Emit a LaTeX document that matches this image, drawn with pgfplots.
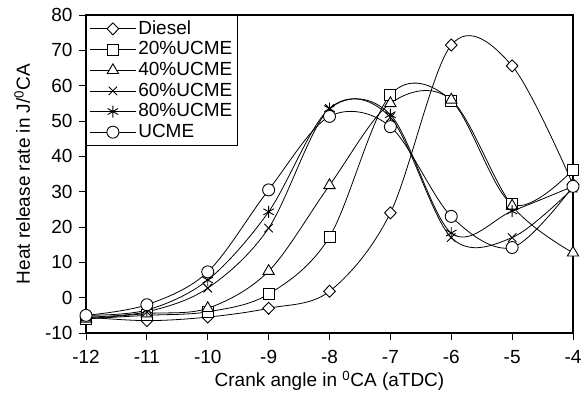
\documentclass[border=0pt]{standalone}
\usepackage{pgfplots}
\pgfplotsset{compat=1.18}
\usepackage{fontspec}
\setmainfont{Liberation Sans}
\begin{document}
\fontsize{19}{22}\selectfont
\begin{tikzpicture}
\begin{axis}[
  scale only axis, width=487pt, height=318pt,
  xmin=-12, xmax=-4, ymin=-10, ymax=80,
  xtick={-12,-11,-10,-9,-8,-7,-6,-5,-4},
  ytick={-10,0,10,20,30,40,50,60,70,80},
  xtick pos=bottom, ytick pos=left,
  tick align=outside, major tick length=7pt,
  tick style={black, line width=0.9pt},
  axis line style={black, line width=1.1pt},
  /pgf/number format/assume math mode=true,
  ticklabel style={font=\fontsize{19}{22}\selectfont},
  xticklabel style={yshift=-4pt},
  label style={font=\fontsize{19}{22}\selectfont},
  xlabel={Crank angle in \textsuperscript{0}CA (aTDC)},
  ylabel={Heat release rate in J/\textsuperscript{0}CA},
  xlabel style={yshift=6pt},
  ylabel style={yshift=2pt},
  legend style={at={(rel axis cs:0,1)}, anchor=north west, draw=black,
    line width=1pt, font=\fontsize{19}{22}\selectfont, inner sep=3pt,
    row sep=0.5pt, fill=white},
  legend cell align=left,
  legend image code/.code={%
    \draw[mark repeat=2,mark phase=2,#1] plot coordinates {(0pt,0pt) (23pt,0pt) (46pt,0pt)};},
  mystyle/.style={black, solid, line width=0.8pt, smooth, tension=0.55,
    mark options={solid, black, fill=white, line width=0.9pt}},
]
\addplot[mystyle, mark=diamond*, mark size=6pt, mark options={solid, black, fill=white, line width=0.9pt, xscale=1.3}] coordinates {
(-12,-5.5) (-11,-6.5) (-10,-5.5) (-9,-3) (-8,1.8) (-7,24) (-6,71.5) (-5,65.6) (-4,32)};
\addlegendentry{Diesel}
\addplot[mystyle, mark=square*, mark size=5.5pt] coordinates {
(-12,-6) (-11,-5) (-10,-4) (-9,1) (-8,17.2) (-7,57.4) (-6,55.8) (-5,26.5) (-4,36.2)};
\addlegendentry{20\%UCME}
\addplot[mystyle, mark=triangle*, mark size=6.5pt] coordinates {
(-12,-6) (-11,-4.5) (-10,-3) (-9,7.5) (-8,31.8) (-7,55) (-6,56) (-5,26) (-4,12.7)};
\addlegendentry{40\%UCME}
\addplot[mystyle, mark=x, mark size=6pt] coordinates {
(-12,-5.5) (-11,-4) (-10,2.7) (-9,19.7) (-8,53.5) (-7,51) (-6,17) (-5,17) (-4,31)};
\addlegendentry{60\%UCME}
\addplot[mystyle, mark=asterisk, mark size=6pt] coordinates {
(-12,-5) (-11,-3.5) (-10,5) (-9,24.3) (-8,53.5) (-7,51.8) (-6,18.3) (-5,24.5) (-4,31.5)};
\addlegendentry{80\%UCME}
\addplot[mystyle, mark=*, mark size=6pt] coordinates {
(-12,-5) (-11,-2) (-10,7.3) (-9,30.5) (-8,51.3) (-7,48.4) (-6,23) (-5,14.2) (-4,31.5)};
\addlegendentry{UCME}
\coordinate (O) at (rel axis cs:0,0);
\end{axis}
\pgfresetboundingbox
\path (O) ++(-86pt,-75pt) rectangle ++(584pt,408pt);
\end{tikzpicture}
\end{document}
